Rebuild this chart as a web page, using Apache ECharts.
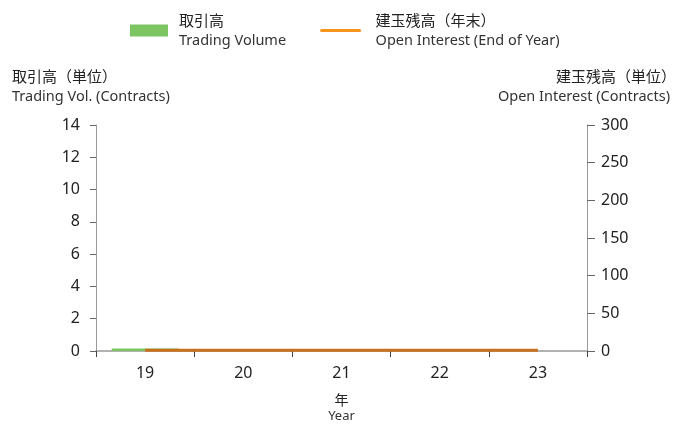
<!DOCTYPE html>
<html>
<head>
<meta charset="utf-8">
<script src="https://cdn.jsdelivr.net/npm/echarts@6/dist/echarts.min.js"></script>
<style>
  html, body { margin: 0; padding: 0; background: #fff; }
  #chart { width: 686px; height: 426px; }
</style>
</head>
<body>
<div id="chart"></div>
<script>
// 年度
const years = ["19", "20", "21", "22", "23"];
// 取引高（左軸）
const tradingVolume = [0.15, 0, 0, 0, 0];
// 建玉残高（右軸）
const openInterest = [1, 1, 1, 1, 1];

const JP = '"Noto Sans CJK JP", sans-serif';
const LATIN = '"Noto Sans", "Noto Sans CJK JP", sans-serif';
const TEXT = "#222";

const chart = echarts.init(document.getElementById("chart"));

const option = {
  animation: false,
  textStyle: { fontFamily: LATIN },
  grid: { left: 96, right: 99, top: 125, bottom: 75, outerBoundsMode: "none", containLabel: false },
  legend: {
    top: 8,
    left: 125,
    itemGap: 34,
    itemWidth: 38,
    itemHeight: 12,
    data: [
      { name: "取引高", icon: "rect" },
      {
        name: "建玉残高（年末）",
        itemStyle: { opacity: 0 },
        lineStyle: { color: "#f7941d", width: 3, cap: "round" }
      }
    ],
    formatter: (name) => {
      // 線の凡例は文字との間隔を少し広めに
      if (name === "取引高") return "{a|" + name + "}\n{b|Trading Volume}";
      return "{c|" + name + "}\n{d|Open Interest (End of Year)}";
    },
    textStyle: {
      rich: {
        a: { fontSize: 15, color: TEXT, fontFamily: JP, lineHeight: 20, padding: [0, 0, 0, 6] },
        b: { fontSize: 14.5, color: "#333", fontFamily: LATIN, lineHeight: 20, padding: [0, 0, 0, 6] },
        c: { fontSize: 15, color: TEXT, fontFamily: JP, lineHeight: 20, padding: [0, 0, 0, 11] },
        d: { fontSize: 14.5, color: "#333", fontFamily: LATIN, lineHeight: 20, padding: [0, 0, 0, 11] }
      }
    }
  },
  graphic: [
    { type: "text", left: 12, top: 69, style: { text: "取引高（単位）", fontSize: 15, fill: TEXT, fontFamily: JP } },
    { type: "text", left: 12, top: 90, style: { text: "Trading Vol. (Contracts)", fontSize: 14.5, fill: "#333", fontFamily: LATIN } },
    { type: "text", right: 10, top: 69, style: { text: "建玉残高（単位）", fontSize: 15, fill: TEXT, fontFamily: JP } },
    { type: "text", right: 16, top: 90, style: { text: "Open Interest (Contracts)", fontSize: 14.5, fill: "#333", fontFamily: LATIN } }
  ],
  xAxis: {
    type: "category",
    data: years,
    name: "{a|年}\n{b|Year}",
    nameLocation: "middle",
    nameGap: 40,
    nameTextStyle: {
      rich: {
        a: { fontSize: 14, color: TEXT, fontFamily: JP, lineHeight: 17 },
        b: { fontSize: 13, color: "#333", fontFamily: LATIN, lineHeight: 17 }
      }
    },
    axisLine: { lineStyle: { color: "#999", width: 1.5 } },
    axisTick: { show: true, length: 6, lineStyle: { color: "#444" } },
    axisLabel: { fontSize: 16, color: TEXT, margin: 14, fontFamily: LATIN }
  },
  yAxis: [
    {
      type: "value",
      min: 0,
      max: 14,
      interval: 2,
      axisLine: { show: true, lineStyle: { color: "#999" } },
      axisTick: { show: true, length: 6, lineStyle: { color: "#666" } },
      axisLabel: { fontSize: 16, color: TEXT, margin: 16, fontFamily: LATIN },
      splitLine: { show: false }
    },
    {
      type: "value",
      min: 0,
      max: 300,
      interval: 50,
      axisLine: { show: true, lineStyle: { color: "#999" } },
      axisTick: { show: true, length: 8, lineStyle: { color: "#666" } },
      axisLabel: { fontSize: 16, color: TEXT, margin: 14, fontFamily: LATIN },
      splitLine: { show: false }
    }
  ],
  series: [
    {
      name: "取引高",
      type: "bar",
      yAxisIndex: 0,
      barWidth: "68%",
      itemStyle: { color: "#7dc462" },
      data: tradingVolume
    },
    {
      name: "建玉残高（年末）",
      type: "line",
      yAxisIndex: 1,
      symbol: "none",
      lineStyle: { color: "#c8701c", width: 3 },
      itemStyle: { color: "#c8701c" },
      data: openInterest
    }
  ]
};

chart.setOption(option);
</script>
</body>
</html>
